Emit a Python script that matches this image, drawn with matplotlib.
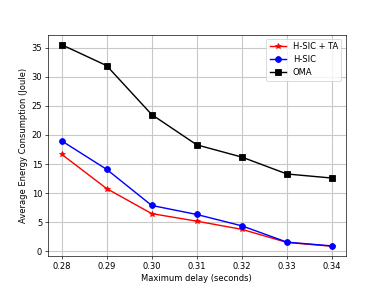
import matplotlib
matplotlib.use('Agg')
import matplotlib.pyplot as plt

# Maximum delay (seconds)
delay = [0.28, 0.29, 0.30, 0.31, 0.32, 0.33, 0.34]

# Average energy consumption (Joule)
hsic_ta = [16.7, 10.8, 6.5, 5.2, 3.8, 1.55, 0.9]
hsic = [19.0, 14.1, 7.9, 6.35, 4.4, 1.6, 0.95]
oma = [35.5, 31.9, 23.5, 18.3, 16.2, 13.3, 12.6]

plt.figure(figsize=(6.4, 4.8), dpi=60)
plt.plot(delay, hsic_ta, 'r-*', label='H-SIC + TA', lw=1.7, ms=7)
plt.plot(delay, hsic, 'b-o', label='H-SIC', lw=1.7, ms=7)
plt.plot(delay, oma, 'k-s', label='OMA', lw=1.7, ms=7)
plt.xticks(delay, ['%.2f' % d for d in delay])
plt.xlabel('Maximum delay (seconds)')
plt.ylabel('Average Energy Consumption (Joule)')
plt.grid(True, color='#c8c8c8', lw=1.3)
plt.legend(loc='upper right')
plt.savefig('out.png', dpi=60)
